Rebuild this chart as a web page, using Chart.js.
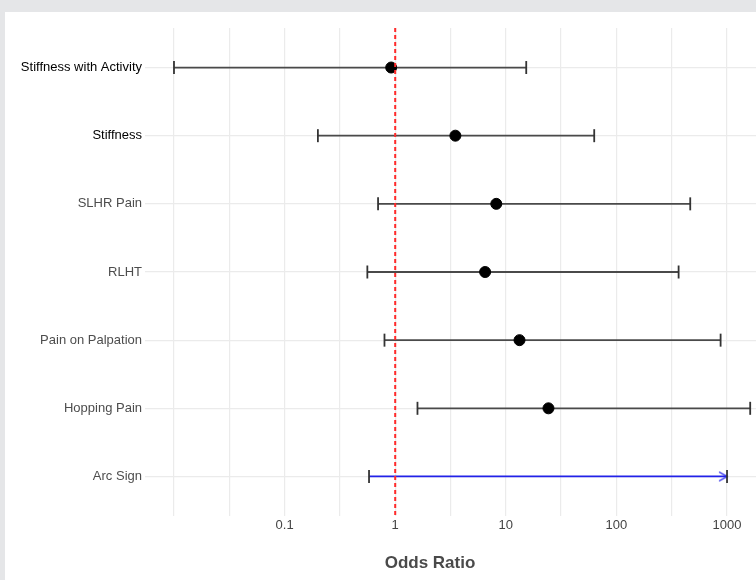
<!DOCTYPE html>
<html>
<head>
<meta charset="utf-8">
<script src="https://cdn.jsdelivr.net/npm/chart.js@4.4.1/dist/chart.umd.min.js"></script>
<style>
  html, body { margin: 0; padding: 0; background: #e5e6e8; overflow: hidden; }
  #wrap { position: absolute; left: 5px; top: 12px; width: 751px; height: 568px; background: #fff; }
</style>
</head>
<body>
<div id="wrap"><canvas id="forest"></canvas></div>
<script>
// rows, top to bottom
var categories = ["Stiffness with Activity", "Stiffness", "SLHR Pain", "RLHT", "Pain on Palpation", "Hopping Pain", "Arc Sign"];
var oddsRatio = [0.92, 3.5, 8.2, 6.5, 13.3, 24.3, null];
var ciLower = [0.01, 0.20, 0.70, 0.56, 0.80, 1.59, 0.58];
var ciUpper = [15.3, 63, 465, 365, 875, 1620, 1000];
var truncated = [false, false, false, false, false, false, true]; // upper CI cut at axis limit
var xTickValues = [0.01, 0.0316, 0.1, 0.316, 1, 3.16, 10, 31.6, 100, 316, 1000];
var xLabelled = [0.1, 1, 10, 100, 1000];

// open arrow head used as a point style, tip in the centre
var arrow = document.createElement('canvas');
arrow.width = 20; arrow.height = 12;
var actx = arrow.getContext('2d');
actx.strokeStyle = '#2222e8';
actx.lineWidth = 1.4;
actx.beginPath();
actx.moveTo(2, 1.5); actx.lineTo(10, 6); actx.lineTo(2, 10.5);
actx.stroke();

var datasets = [];

// reference line at OR = 1 (drawn on top)
datasets.push({
  type: 'line',
  data: [{x: 1, y: 0.42}, {x: 1, y: 7.58}],
  borderColor: '#ff2b2b',
  borderWidth: 2,
  borderDash: [4, 3],
  pointRadius: 0
});

// point estimates
datasets.push({
  type: 'scatter',
  data: oddsRatio.map(function(v, i) { return v == null ? null : {x: v, y: i + 1}; }).filter(Boolean),
  backgroundColor: '#000',
  borderColor: '#000',
  pointRadius: 5.5
});

// confidence intervals
categories.forEach(function(c, i) {
  var col = truncated[i] ? '#2222e8' : '#4a4a4a';
  datasets.push({
    type: 'line',
    data: [{x: ciLower[i], y: i + 1}, {x: ciUpper[i], y: i + 1}],
    borderColor: col,
    borderWidth: 1.8,
    pointStyle: 'line',
    pointRotation: 90,
    pointRadius: 6.5,
    pointBorderWidth: 1.8,
    pointBorderColor: '#333'
  });
  if (truncated[i]) {
    datasets.push({
      type: 'scatter',
      data: [{x: ciUpper[i], y: i + 1}],
      pointStyle: arrow
    });
  }
});

var axisTitle = {
  id: 'axisTitle',
  afterDraw: function(chart) {
    var ctx = chart.ctx;
    ctx.save();
    ctx.font = 'bold 17px "Liberation Sans", Arial, sans-serif';
    ctx.fillStyle = '#4a4a4a';
    ctx.textAlign = 'center';
    ctx.textBaseline = 'middle';
    ctx.fillText('Odds Ratio', 425, 551);
    ctx.restore();
  }
};

new Chart(document.getElementById('forest'), {
  type: 'scatter',
  data: { datasets: datasets },
  plugins: [axisTitle],
  options: {
    responsive: true,
    maintainAspectRatio: false,
    animation: false,
    events: [],
    layout: { autoPadding: false, padding: { top: 16, right: 0, bottom: 0, left: 0 } },
    plugins: { legend: { display: false }, tooltip: { enabled: false } },
    scales: {
      x: {
        type: 'logarithmic',
        min: 0.00547,
        max: 1828,
        afterBuildTicks: function(scale) {
          scale.ticks = xTickValues.map(function(v) { return {value: v}; });
        },
        afterFit: function(scale) {
          scale.height = 64;
          scale.paddingLeft = 0;
          scale.paddingRight = 0;
        },
        border: { display: false },
        grid: { color: '#ebebeb', lineWidth: 1.2, drawTicks: false },
        ticks: {
          padding: 2,
          color: '#444',
          font: { family: '"Liberation Sans", Arial, sans-serif', size: 13 },
          autoSkip: false,
          maxRotation: 0,
          callback: function(v) {
            return xLabelled.indexOf(v) >= 0 ? String(v) : '';
          }
        }
      },
      y: {
        type: 'linear',
        reverse: true,
        min: 0.42,
        max: 7.58,
        afterBuildTicks: function(scale) {
          scale.ticks = categories.map(function(c, i) { return {value: i + 1}; });
        },
        afterFit: function(scale) { scale.width = 140; },
        border: { display: false },
        grid: { color: '#ebebeb', lineWidth: 1.2, drawTicks: false },
        ticks: {
          padding: 3,
          font: { family: '"Liberation Sans", Arial, sans-serif', size: 13 },
          color: function(ctx) { return ctx.tick && ctx.tick.value <= 2 ? '#000' : '#4d4d4d'; },
          callback: function(v) { return categories[v - 1]; }
        }
      }
    }
  }
});
</script>
</body>
</html>
